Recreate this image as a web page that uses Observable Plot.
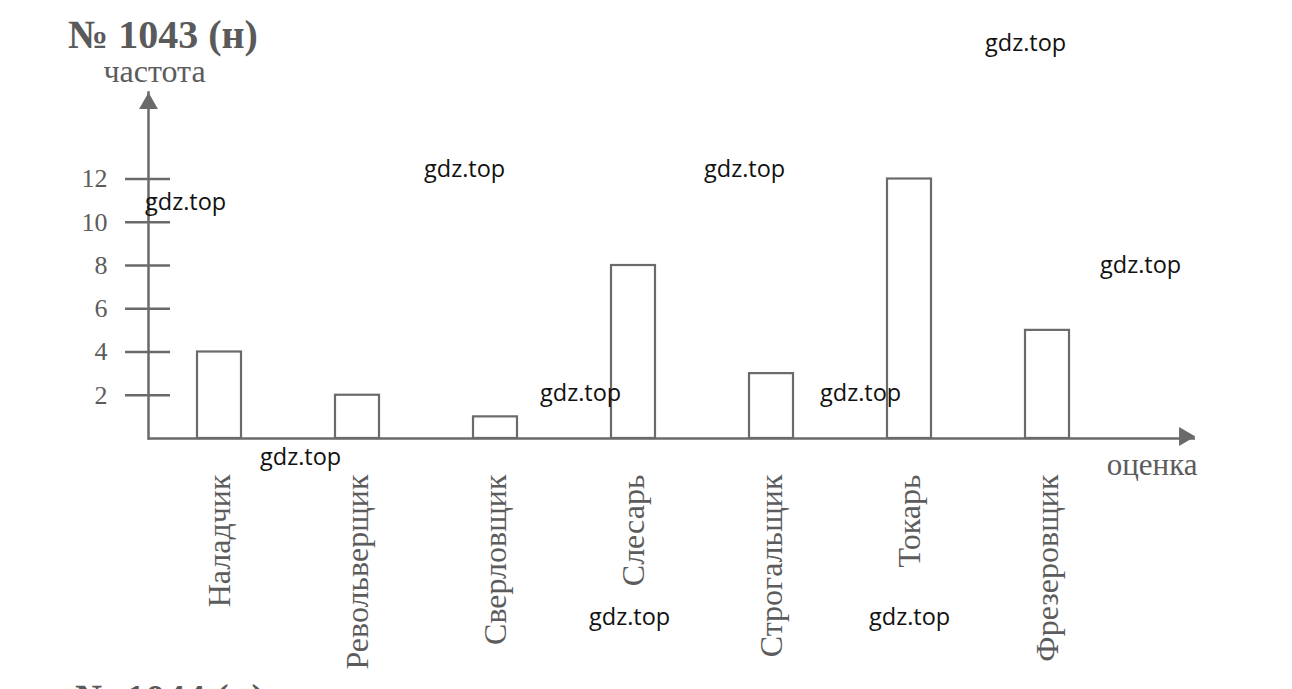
<!DOCTYPE html>
<html><head><meta charset="utf-8">
<script src="https://cdn.jsdelivr.net/npm/d3@7"></script>
<script src="https://cdn.jsdelivr.net/npm/@observablehq/plot@0.6"></script>
<style>
html,body{margin:0;padding:0;background:#fff;width:1292px;height:689px;overflow:hidden;}
#wrap{position:relative;width:1292px;height:689px;overflow:hidden;}
#wrap svg{position:absolute;left:0;top:0;}
.title{position:absolute;font-family:"Liberation Serif",serif;font-weight:bold;font-size:40px;line-height:0.8;color:#5a5a5a;white-space:nowrap;}
.wm{position:absolute;font-family:"Open Sans",sans-serif;font-size:23.5px;line-height:1;color:#111;white-space:nowrap;}
</style></head><body><div id="wrap"></div>
<script>
const categories = ["Наладчик","Револьверщик","Сверловщик","Слесарь","Строгальщик","Токарь","Фрезеровщик"];
const counts = [4, 2, 1, 8, 3, 12, 5];
const yTicks = [2, 4, 6, 8, 10, 12];
const yAxisMax = 16;
const titleText = "№ 1043 (н)";
const nextTitleText = "№ 1044 (н)";
const yLabel = "частота";
const xLabel = "оценка";
const watermarkText = "gdz.top";
const watermarkSpots = [[985,46],[424,172],[704,172],[145,205],[1100,268],[540,396],[820,396],[260,460],[589,620],[869,620]];

const data = categories.map((c, i) => ({cat: c, count: counts[i]}));
const ink = "#6a6a6a";
const txt = "#5c5c5c";
const serif = "'Liberation Serif', serif";

const chart = Plot.plot({
  width: 1292, height: 689,
  marginLeft: 148, marginRight: 97, marginTop: 92, marginBottom: 251,
  style: {fontFamily: serif, background: "transparent", overflow: "visible"},
  x: {domain: categories, paddingInner: 0.68, paddingOuter: 0.629, align: 0.28, axis: null},
  y: {domain: [0, yAxisMax], label: null, axis: null},
  marks: [
    Plot.barY(data, {x: "cat", y: "count", fill: "white", stroke: ink, strokeWidth: 2.2}),
    Plot.frame({anchor: "left", stroke: ink, strokeWidth: 2.5}),
    Plot.ruleY([0], {stroke: ink, strokeWidth: 2.5}),
    Plot.axisY(yTicks, {tickSize: 45, dx: 22, tickFormat: () => "", stroke: ink, strokeWidth: 2.5, label: null}),
    Plot.axisY(yTicks, {tickSize: 0, tickPadding: 41, fontSize: 26, fontFamily: serif, fill: txt, label: null}),
    Plot.dot([0], {frameAnchor: "top-left", symbol: "triangle", r: 7, fill: ink, stroke: null, dy: 11}),
    Plot.dot([0], {frameAnchor: "bottom-right", symbol: "triangle", r: 7, rotate: 90, fill: ink, stroke: null, dx: -11, dy: -2}),
    Plot.text([yLabel], {frameAnchor: "top-left", dx: 6, dy: -21, fontSize: 32, fontFamily: serif, fill: txt, textAnchor: "middle", lineAnchor: "middle"}),
    Plot.text([xLabel], {frameAnchor: "bottom-right", dx: 2, dy: 27, fontSize: 31, fontFamily: serif, fill: txt, textAnchor: "end", lineAnchor: "middle"}),
    Plot.text(data, {x: "cat", frameAnchor: "bottom", text: "cat", rotate: -90, textAnchor: "end", lineAnchor: "middle", dy: 36, fontSize: 32, fontFamily: serif, fill: txt})
  ]
});

const wrap = document.getElementById("wrap");
wrap.appendChild(chart);

function addDiv(cls, text, left, top) {
  const d = document.createElement("div");
  d.className = cls;
  d.textContent = text;
  d.style.left = left + "px";
  d.style.top = top + "px";
  wrap.appendChild(d);
}
addDiv("title", titleText, 68, 19);
addDiv("title", nextTitleText, 75, 683);
for (const [x, cy] of watermarkSpots) addDiv("wm", watermarkText, x, cy - 15);
</script>
</body></html>
